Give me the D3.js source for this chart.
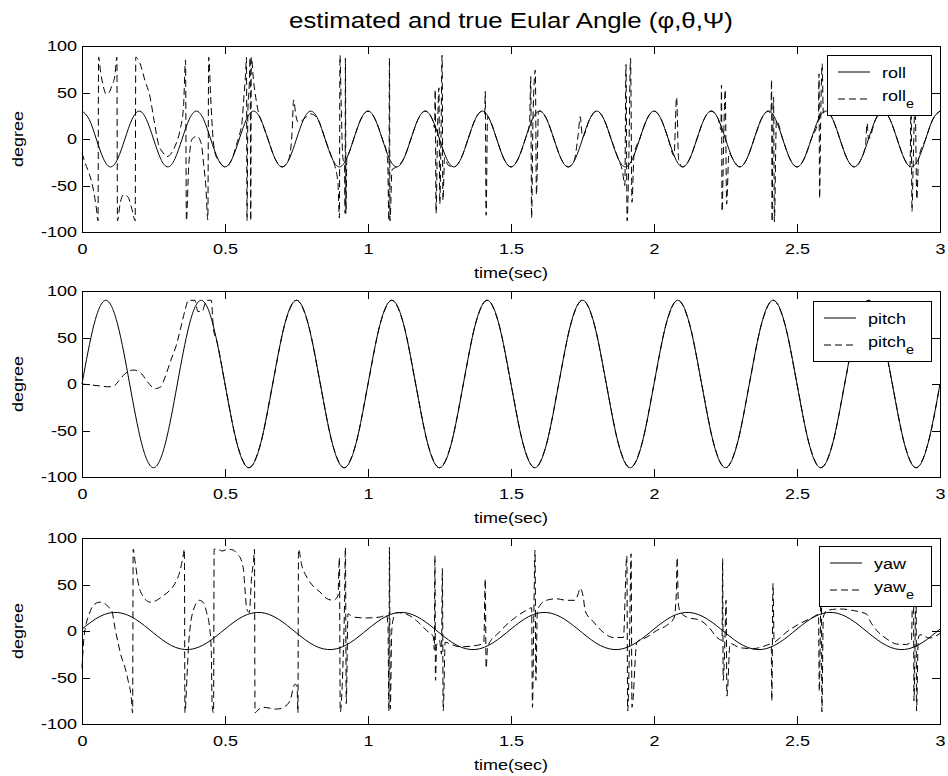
<!DOCTYPE html>
<html>
<head>
<meta charset="utf-8">
<script src="https://cdn.jsdelivr.net/npm/d3@7"></script>
<style>
  body { margin: 0; background: #fff; }
  svg text { font-family: "Liberation Sans", Arial, Helvetica, sans-serif; fill: #000; font-weight: normal; }
</style>
</head>
<body>
<svg id="chart" width="948" height="776"></svg>
<script>
// ---------------- data ----------------
const timeRange = [0, 3];
const timeTicks = [0, 0.5, 1, 1.5, 2, 2.5, 3];
const angleRange = [-100, 100];
const angleTicks = [-100, -50, 0, 50, 100];

// true angles, sampled every step seconds
const rollStep = 0.025;
const rollTrue = [
  30, 21.2, 0, -21.2, -30, -21.2, 0, 21.2,
  30, 21.2, 0, -21.2, -30, -21.2, 0, 21.2,
  30, 21.2, 0, -21.2, -30, -21.2, 0, 21.2,
  30, 21.2, 0, -21.2, -30, -21.2, 0, 21.2,
  30, 21.2, 0, -21.2, -30, -21.2, 0, 21.2,
  30, 21.2, 0, -21.2, -30, -21.2, 0, 21.2,
  30, 21.2, 0, -21.2, -30, -21.2, 0, 21.2,
  30, 21.2, 0, -21.2, -30, -21.2, 0, 21.2,
  30, 21.2, 0, -21.2, -30, -21.2, 0, 21.2,
  30, 21.2, 0, -21.2, -30, -21.2, 0, 21.2,
  30, 21.2, 0, -21.2, -30, -21.2, 0, 21.2,
  30, 21.2, 0, -21.2, -30, -21.2, 0, 21.2,
  30, 21.2, 0, -21.2, -30, -21.2, 0, 21.2,
  30, 21.2, 0, -21.2, -30, -21.2, 0, 21.2,
  30, 21.2, 0, -21.2, -30, -21.2, 0, 21.2,
  30
];
const pitchStep = 1 / 24;
const pitchTrue = [
  0, 63.6, 90, 63.6, 0, -63.6, -90, -63.6,
  0, 63.6, 90, 63.6, 0, -63.6, -90, -63.6,
  0, 63.6, 90, 63.6, 0, -63.6, -90, -63.6,
  0, 63.6, 90, 63.6, 0, -63.6, -90, -63.6,
  0, 63.6, 90, 63.6, 0, -63.6, -90, -63.6,
  0, 63.6, 90, 63.6, 0, -63.6, -90, -63.6,
  0, 63.6, 90, 63.6, 0, -63.6, -90, -63.6,
  0, 63.6, 90, 63.6, 0, -63.6, -90, -63.6,
  0, 63.6, 90, 63.6, 0, -63.6, -90, -63.6,
  0
];
const yawStep = 0.0625;
const yawTrue = [
  2.1, 15.6, 19.9, 12.6, -2.1, -15.6, -19.9, -12.6,
  2.1, 15.6, 19.9, 12.6, -2.1, -15.6, -19.9, -12.6,
  2.1, 15.6, 19.9, 12.6, -2.1, -15.6, -19.9, -12.6,
  2.1, 15.6, 19.9, 12.6, -2.1, -15.6, -19.9, -12.6,
  2.1, 15.6, 19.9, 12.6, -2.1, -15.6, -19.9, -12.6,
  2.1, 15.6, 19.9, 12.6, -2.1, -15.6, -19.9, -12.6,
  2.1
];

// estimated angles: [time (sec), degree]
const rollEst = [
  [0,-15],[0.01,-25],[0.02,-33],[0.03,-42],[0.04,-55],[0.05,-74],[0.056,-88],
  [0.058,88],[0.065,72],[0.075,56],[0.085,48],[0.095,50],[0.105,58],[0.115,68],[0.122,88],
  [0.124,-88],[0.133,-70],[0.145,-60],[0.16,-62],[0.175,-76],[0.186,-88],
  [0.188,88],[0.203,81],[0.22,63],[0.238,45],[0.252,20],[0.267,-5],[0.284,-15],[0.296,-19],[0.313,-15],[0.325,-8],[0.343,10],[0.355,35],[0.362,85],
  [0.365,-88],[0.373,-30],[0.385,0],[0.402,3],[0.417,-5],[0.425,-26],[0.433,-51],[0.44,-87],
  [0.443,88],[0.45,45],[0.456,10],[0.465,-15],[0.482,-25],[0.5,-30],[0.525,-21.2],[0.54,-6],[0.55,4],[0.56,20],[0.566,45],[0.572,70],[0.575,88],
  [0.577,-88],[0.58,30],[0.585,60],[0.588,88],[0.59,-88],[0.592,88],[0.6,62],[0.61,40],[0.62,25],[0.625,21.2],[0.65,0],[0.675,-21.2],[0.7,-30],[0.72,-24],[0.73,-10],[0.735,10],[0.74,42],[0.748,25],[0.756,18],[0.775,21.2],[0.8,27],[0.825,21.2],[0.85,0],[0.875,-21.2],[0.885,-30],[0.895,-48],[0.9,-85],
  [0.902,90],[0.906,40],[0.912,-20],[0.918,-28],[0.92,-80],[0.921,87],[0.923,-80],[0.926,-20],[0.93,-17.6],[0.95,0],[0.975,21.2],[1,30],[1.025,21.2],[1.05,0],[1.065,-15],[1.069,-25],[1.073,-88],[1.075,87],[1.077,-88],[1.084,-33],[1.1,-30],
  [1.125,-21.2],[1.15,0],[1.175,21.2],[1.2,30],[1.225,21.2],[1.233,12],[1.235,53],[1.238,-80],[1.243,5],[1.248,55],[1.251,-70],[1.255,-5],[1.259,90],[1.262,-66],[1.268,-20],[1.28,-28],[1.3,-30],
  [1.325,-21.2],[1.35,0],[1.375,21.2],[1.4,30],[1.408,27],[1.41,51],[1.413,-82],[1.418,24],[1.425,21.2],[1.45,0],[1.475,-21.2],[1.5,-30],[1.525,-21.2],[1.55,0],[1.565,17],[1.569,67],[1.572,-85],[1.577,24],[1.585,74],[1.589,-60],[1.596,29],[1.6,30],
  [1.625,21.2],[1.65,0],[1.675,-21.2],[1.7,-30],[1.72,-24],[1.735,5],[1.742,24],[1.75,2],[1.775,21.2],[1.8,30],[1.825,21.2],[1.85,0],[1.875,-21.2],[1.89,-35],[1.898,-50],[1.902,80],[1.906,-88],[1.912,-20],[1.918,87],[1.923,-68],[1.93,-17.6],
  [1.95,0],[1.975,21.2],[2,30],[2.025,21.2],[2.05,0],[2.07,-18],[2.079,45],[2.086,-22],[2.1,-30],[2.125,-21.2],[2.15,0],[2.175,21.2],[2.2,30],[2.225,21.2],[2.234,10],[2.236,58],[2.238,-78],[2.244,5],[2.249,53],[2.254,-70],[2.262,-15],[2.275,-21.2],[2.3,-30],
  [2.325,-21.2],[2.35,0],[2.375,21.2],[2.4,30],[2.409,27],[2.411,64],[2.413,-89],[2.416,28],[2.418,45],[2.421,-89],[2.428,20],[2.45,0],[2.475,-21.2],[2.5,-30],[2.525,-21.2],[2.55,0],[2.575,21.2],[2.577,70],[2.579,-64],[2.583,24],[2.588,81],[2.592,28],[2.6,30],
  [2.625,21.2],[2.65,0],[2.675,-21.2],[2.7,-30],[2.725,-21.2],[2.74,-5],[2.745,17],[2.75,0],[2.775,21.2],[2.8,30],[2.825,21.2],[2.85,0],[2.875,-21.2],[2.895,-30],[2.899,40],[2.902,-78],[2.906,-30],[2.913,40],[2.919,-65],[2.925,-22],[2.95,0],[2.975,21.2],[3,30]
];

// pitch estimate: its start (below), then it follows the true pitch
const pitchEstStart = [
  [0,0],[0.03,-1],[0.06,-2],[0.09,-3],[0.11,-2.5],[0.13,4],[0.15,11],[0.18,15],[0.205,12],[0.23,2],[0.255,-5],[0.275,-3],[0.29,7],
  [0.31,25],[0.33,42],[0.345,60],[0.36,79],[0.372,90],[0.395,90],[0.405,78],[0.42,78],[0.432,88],[0.437,90],[0.452,90],[0.46,58],[0.47,48]
];

const yawEst = [
  [0,-40],[0.006,-10],[0.015,8],[0.025,18],[0.034,25],[0.05,30],[0.063,31],[0.075,30],[0.086,28],[0.095,25],[0.104,22],[0.115,4],[0.127,-14],[0.138,-28],[0.15,-39],[0.161,-53],[0.172,-71],[0.177,-88],
  [0.179,88],[0.185,76],[0.197,51],[0.214,37],[0.238,31],[0.261,33],[0.284,38],[0.308,44],[0.325,51],[0.343,65],[0.355,83],[0.358,88],
  [0.36,-88],[0.367,-50],[0.373,-14],[0.389,22],[0.411,33],[0.428,29],[0.434,22],[0.446,4],[0.452,-21],[0.455,-80],[0.46,-88],
  [0.462,88],[0.475,88],[0.49,86],[0.51,88],[0.529,87],[0.545,82],[0.553,79],[0.565,65],[0.57,44],[0.576,24],[0.585,20],[0.593,58],[0.6,76],[0.603,88],
  [0.605,-88],[0.615,-85],[0.634,-82],[0.657,-83],[0.68,-84],[0.704,-82],[0.727,-75],[0.745,-57],[0.752,-60],[0.755,-88],
  [0.757,88],[0.768,71],[0.786,58],[0.809,48],[0.832,42],[0.855,35],[0.879,33],[0.895,38],[0.9,79],[0.903,-87],[0.912,-40],[0.918,30],[0.921,90],[0.924,-78],[0.93,18.5],
  [0.948,15],[0.995,14],[1.042,15],[1.065,17],[1.07,5],[1.073,-86],[1.075,90],[1.078,-84],[1.083,0],[1.09,15],[1.1,19.8],[1.135,18],[1.17,11],[1.205,0.5],[1.228,-6],
  [1.232,-20],[1.234,81],[1.236,-53],[1.24,-15],[1.25,-10],[1.257,-25],[1.26,67],[1.263,-86],[1.27,-12],[1.287,-14],[1.322,-17],[1.369,-16],[1.398,-14],[1.405,-12],[1.41,56],[1.413,-40],[1.418,-18],[1.43,-10],
  [1.447,-5],[1.482,6],[1.517,15],[1.552,22],[1.572,25],[1.575,-82],[1.58,20],[1.584,87],[1.587,-53],[1.592,20],[1.601,27.5],[1.624,33],[1.659,34.7],[1.694,33],[1.723,33],[1.735,40],[1.741,46],[1.753,36],[1.759,22],
  [1.788,10],[1.823,-1.5],[1.858,-7],[1.893,-7],[1.905,81],[1.908,-86],[1.914,-20],[1.92,83],[1.923,-82],[1.94,-12],[1.975,-6.6],[2.009,0.5],[2.044,6],[2.07,14],[2.078,40],[2.081,79],[2.085,30],[2.09,22],
  [2.114,15],[2.161,11.5],[2.196,2.5],[2.219,-6.5],[2.238,-10],[2.24,78],[2.242,-53],[2.248,-10],[2.252,33],[2.255,-70],[2.266,-13.5],[2.301,-18],[2.348,-19],[2.383,-16.5],[2.41,-14],[2.412,-75],[2.416,51],[2.42,-12],[2.43,-10],
  [2.464,-1],[2.51,8],[2.557,15],[2.575,18],[2.578,-65],[2.582,10],[2.585,88],[2.587,-87],[2.592,15],[2.604,22],[2.65,23.7],[2.697,22],[2.744,18],[2.755,11],[2.779,0.5],[2.814,-8.5],[2.848,-14],[2.883,-14.5],[2.9,-10],
  [2.907,85],[2.909,-75],[2.913,-5],[2.916,85],[2.918,-86],[2.924,-8],[2.93,-4],[2.964,-7.6],[3,-2.6]
];

const titleText = "estimated and true Eular Angle (\u03C6,\u03B8,\u03A8)";
const xLabel = "time(sec)";
const yLabel = "degree";
const seriesNames = [["roll", "roll", "e"], ["pitch", "pitch", "e"], ["yaw", "yaw", "e"]];

// ---------------- layout ----------------
const SX = 1.2;        // horizontal stretch of the text
const FS = 15;         // font size
const plotLeft = 82, plotRight = 940, panelH = 186;
const panelTops = [46, 291, 538];
const legendTops = [55, 300.5, 546];
const legendRight = 931;

const svg = d3.select("#chart");
svg.append("rect").attr("width", 948).attr("height", 776).attr("fill", "#fff");

const x = d3.scaleLinear().domain(timeRange).range([plotLeft, plotRight]);

const toPairs = (vals, step) => vals.map((v, i) => [i * step, v]);
const pitchTruePairs = toPairs(pitchTrue, pitchStep);
const pitchEst = pitchEstStart.concat(pitchTruePairs.filter(d => d[0] > 0.48));

const panels = [
  { truth: toPairs(rollTrue, rollStep), est: rollEst },
  { truth: pitchTruePairs, est: pitchEst },
  { truth: toPairs(yawTrue, yawStep), est: yawEst }
];

const dash = "7,4";

panels.forEach((p, i) => {
  const top = panelTops[i];
  const bottom = top + panelH;
  const y = d3.scaleLinear().domain(angleRange).range([bottom, top]);
  const g = svg.append("g");

  const lineTrue = d3.line().x(d => x(d[0])).y(d => y(d[1])).curve(d3.curveNatural);
  const lineEst = d3.line().x(d => x(d[0])).y(d => y(d[1])).curve(d3.curveMonotoneX);

  g.append("path").datum(p.truth).attr("d", lineTrue)
    .attr("fill", "none").attr("stroke", "#000").attr("stroke-width", 1);
  g.append("path").datum(p.est).attr("d", lineEst)
    .attr("fill", "none").attr("stroke", "#000").attr("stroke-width", 1)
    .attr("stroke-dasharray", dash);

  // axes (box with inward ticks on all four sides)
  const styleAxis = sel => {
    sel.attr("font-size", FS).attr("font-family", null).attr("color", "#000");
    sel.selectAll("path,line").attr("shape-rendering", "crispEdges");
  };
  const gx = g.append("g").attr("transform", `translate(0,${bottom})`)
    .call(d3.axisBottom(x).tickValues(timeTicks).tickSizeInner(-8).tickSizeOuter(0)
      .tickPadding(11.4).tickFormat(d3.format("~g")));
  styleAxis(gx);
  gx.selectAll("text").attr("transform", `scale(${SX},1)`);

  const gt = g.append("g").attr("transform", `translate(0,${top})`)
    .call(d3.axisTop(x).tickValues(timeTicks).tickSizeInner(-8).tickSizeOuter(0).tickFormat(() => ""));
  styleAxis(gt);

  const gy = g.append("g").attr("transform", `translate(${plotLeft},0)`)
    .call(d3.axisLeft(y).tickValues(angleTicks).tickSizeInner(-8).tickSizeOuter(0)
      .tickPadding(5 / SX).tickFormat(d => String(d)));
  styleAxis(gy);
  gy.selectAll("text").attr("transform", `scale(${SX},1)`);

  const gr = g.append("g").attr("transform", `translate(${plotRight},0)`)
    .call(d3.axisRight(y).tickValues(angleTicks).tickSizeInner(-8).tickSizeOuter(0).tickFormat(() => ""));
  styleAxis(gr);

  // axis labels
  g.append("text")
    .attr("transform", `translate(${(plotLeft + plotRight) / 2},${bottom + 45.5}) scale(${SX},1)`)
    .attr("text-anchor", "middle").attr("font-size", FS).text(xLabel);
  g.append("text")
    .attr("transform", `translate(22.5,${(top + bottom) / 2}) rotate(-90) scale(${SX},1)`)
    .attr("text-anchor", "middle").attr("font-size", FS).text(yLabel);

  // legend
  const names = seriesNames[i];
  const lg = g.append("g");
  const box = lg.append("rect").attr("fill", "#fff").attr("stroke", "#000")
    .attr("stroke-width", 1).attr("shape-rendering", "crispEdges");
  const rowY = [17, 44];
  lg.append("line").attr("x1", 11).attr("x2", 43).attr("y1", rowY[0]).attr("y2", rowY[0])
    .attr("stroke", "#000").attr("stroke-width", 1);
  lg.append("line").attr("x1", 11).attr("x2", 43).attr("y1", rowY[1]).attr("y2", rowY[1])
    .attr("stroke", "#000").attr("stroke-width", 1).attr("stroke-dasharray", dash);
  const t1 = lg.append("text").attr("transform", `translate(55,${rowY[0] + 5.5}) scale(${SX},1)`)
    .attr("font-size", FS).text(names[0]);
  const t2 = lg.append("text").attr("transform", `translate(55,${rowY[1] + 2}) scale(${SX},1)`)
    .attr("font-size", FS);
  t2.append("tspan").text(names[1]);
  t2.append("tspan").attr("font-size", 12).attr("dy", 7).text(names[2]);
  const wText = Math.max(t1.node().getComputedTextLength(), t2.node().getComputedTextLength()) * SX;
  const bw = Math.round(55 + wText + 17);
  const bh = 60;
  box.attr("x", 0).attr("y", 0).attr("width", bw).attr("height", bh);
  lg.attr("transform", `translate(${legendRight - bw},${Math.round(legendTops[i])})`);
});

// title
svg.append("text")
  .attr("transform", `translate(${(plotLeft + plotRight) / 2},28) scale(${SX},1)`)
  .attr("text-anchor", "middle").attr("font-size", 21.5).text(titleText);
</script>
</body>
</html>
